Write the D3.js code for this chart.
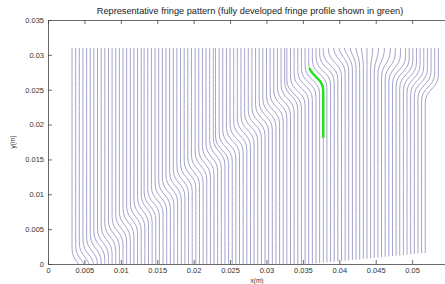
<!DOCTYPE html>
<html>
<head>
<meta charset="utf-8">
<script src="https://cdn.jsdelivr.net/npm/d3@7"></script>
<style>
  body { margin: 0; background: #fff; }
  svg { display: block; font-family: "Liberation Sans", Arial, sans-serif; }
</style>
</head>
<body>
<script>
// fringe data, all in mm
// x position of each fringe below the front
const fringeX = [
  4.8, 5.3, 5.8, 6.3, 6.8, 7.3, 7.8, 8.3, 8.8, 9.3,
  9.8, 10.3, 10.8, 11.3, 11.8, 12.3, 12.8, 13.3, 13.8, 14.3,
  14.8, 15.3, 15.8, 16.3, 16.8, 17.3, 17.8, 18.3, 18.8, 19.3,
  19.8, 20.3, 20.8, 21.3, 21.8, 22.3, 22.8, 23.3, 23.8, 24.3,
  24.8, 25.3, 25.8, 26.3, 26.8, 27.3, 27.8, 28.3, 28.8, 29.3,
  29.8, 30.3, 30.8, 31.3, 31.8, 32.3, 32.8, 33.3, 33.8, 34.3,
  34.8, 35.3, 35.8, 36.3, 36.8, 37.3, 37.8, 38.3, 38.8, 39.3,
  39.8, 40.3, 40.8, 41.3, 41.8, 42.3, 42.8, 43.3, 43.8, 44.3,
  44.8, 45.3, 45.8, 46.3, 46.8, 47.3, 47.8, 48.3, 48.8, 49.3,
  49.8, 50.3, 50.8, 51.3, 51.8
];
// y where each fringe starts (bottom end)
const fringeBase = [
  0, 0, 0, 0, 0, 0, 0, 0, 0, 0,
  0, 0, 0, 0, 0, 0, 0, 0, 0, 0,
  0, 0, 0, 0, 0, 0, 0, 0, 0, 0,
  0, 0, 0, 0, 0, 0, 0, 0, 0, 0,
  0, 0, 0, 0, 0, 0, 0, 0, 0, 0,
  0, 0, 0, 0, 0, 0, 0, 0, 0, 0,
  0, 0, 0, 0.03, 0.08, 0.13, 0.18, 0.23, 0.28, 0.33,
  0.38, 0.43, 0.48, 0.53, 0.58, 0.63, 0.68, 0.73, 0.78, 0.83,
  0.88, 0.93, 0.98, 1.03, 1.08, 1.13, 1.18, 1.23, 1.28, 1.33,
  1.38, 1.43, 1.48, 1.53, 1.58
];
// height of the bend (centre) on each fringe
const frontY = [
  0.2, 0.61, 1.02, 1.43, 1.84, 2.25, 2.66, 3.07, 3.48, 3.89,
  4.3, 4.71, 5.12, 5.53, 5.94, 6.35, 6.76, 7.17, 7.58, 7.99,
  8.32, 8.73, 9.14, 9.55, 9.96, 10.37, 10.78, 11.19, 11.6, 12.01,
  12.42, 12.83, 13.24, 13.65, 14.06, 14.47, 14.88, 15.29, 15.7, 16.11,
  16.35, 16.76, 17.17, 17.58, 17.99, 18.4, 18.81, 19.22, 19.63, 20.04,
  20.45, 20.86, 21.27, 21.68, 22.09, 22.5, 22.91, 23.32, 23.73, 24.14,
  24.39, 24.8, 25.21, 25.62, 26.03, 26.44, 26.85, 27.26, 27.67, 28.08,
  28.49, 28.9, 29.3, 29.6, 29.8, 29.9, 30, 30, 30, 29.5,
  29.3, 29, 28.7, 28.4, 28.1, 27.8, 27.5, 27.2, 26.9, 26.6,
  26.3, 26, 25.7, 25.4, 25.1
];
// sideways shift of the fringe above the bend (negative = to the left)
const frontShift = [
  -1.5, -1.5, -1.5, -1.5, -1.5, -1.5, -1.5, -1.5, -1.5, -1.5,
  -1.5, -1.5, -1.5, -1.5, -1.5, -1.5, -1.5, -1.5, -1.5, -1.5,
  -1.6, -1.6, -1.6, -1.6, -1.6, -1.6, -1.6, -1.6, -1.6, -1.6,
  -1.6, -1.6, -1.6, -1.6, -1.6, -1.6, -1.6, -1.6, -1.6, -1.6,
  -1.8, -1.8, -1.8, -1.8, -1.8, -1.8, -1.8, -1.8, -1.8, -1.8,
  -1.8, -1.8, -1.8, -1.8, -1.8, -1.8, -1.8, -1.8, -1.8, -1.8,
  -2.0, -2.0, -2.0, -2.0, -2.0, -2.0, -2.0, -2.0, -2.0, -2.0,
  -2.0, -1.8, -1.6, -1.4, -1.2, -0.9, -0.6, -0.3, 0, 0.3,
  0.6, 0.9, 1.2, 1.4, 1.6, 1.8, 1.8, 1.8, 1.8, 1.8,
  1.8, 1.8, 1.8, 1.8, 1.8
];
const bendHalf = 2.0;      // half height of the bend
const fringeTop = 31;      // all fringes stop here
const greenFringe = 66;    // fully developed profile
const greenRange = [18.1, 28.1];

const xTicks = [0, 0.005, 0.01, 0.015, 0.02, 0.025, 0.03, 0.035, 0.04, 0.045, 0.05];
const yTicks = [0, 0.005, 0.01, 0.015, 0.02, 0.025, 0.03, 0.035];

const width = 445, height = 284;
const margin = { top: 20, right: -13, bottom: 20, left: 48 };

const svg = d3.select("body").append("svg")
  .attr("width", width)
  .attr("height", height);

const x = d3.scaleLinear().domain([0, 0.0563]).range([margin.left, width - margin.right]);
const y = d3.scaleLinear().domain([0, 0.035]).range([height - margin.bottom, margin.top]);

const fmt = d => (d === 0 ? "0" : String(+d.toFixed(3)));

// clip areas for the fringes and the green profile
const defs = svg.append("defs");
defs.append("clipPath").attr("id", "fringeClip")
  .append("rect")
  .attr("x", 0).attr("width", width)
  .attr("y", y(fringeTop / 1000))
  .attr("height", y(0) - y(fringeTop / 1000));
defs.append("clipPath").attr("id", "greenClip")
  .append("rect")
  .attr("x", 0).attr("width", width)
  .attr("y", y(greenRange[1] / 1000))
  .attr("height", y(greenRange[0] / 1000) - y(greenRange[1] / 1000));

const line = d3.line()
  .x(p => x(p[0] / 1000))
  .y(p => y(p[1] / 1000))
  .curve(d3.curveBumpY);

// bottom end, start of bend, end of bend, top end
function fringePoints(i) {
  const xb = fringeX[i], yb = fringeBase[i];
  const yf = frontY[i], d = frontShift[i];
  const lo = yf - bendHalf, hi = yf + bendHalf;
  const start = yb > 0 ? yb : Math.min(0, lo);
  return [
    [xb, start],
    [xb, Math.max(lo, start)],
    [xb + d, hi],
    [xb + d, Math.max(fringeTop, hi)]
  ];
}

const fringeData = fringeX.map((_, i) => fringePoints(i));

svg.append("g")
  .attr("clip-path", "url(#fringeClip)")
  .selectAll("path")
  .data(fringeData)
  .enter()
  .append("path")
  .attr("d", line)
  .attr("fill", "none")
  .attr("stroke", "#a4a4ca")
  .attr("stroke-width", 1);

svg.append("path")
  .attr("clip-path", "url(#greenClip)")
  .attr("d", line(fringeData[greenFringe]))
  .attr("fill", "none")
  .attr("stroke", "#22e522")
  .attr("stroke-width", 2.5);

// axes, MATLAB style with ticks pointing inward
const axisColor = "#444";
const bottomAxis = svg.append("g")
  .attr("transform", `translate(0,${y(0)})`)
  .call(d3.axisBottom(x).tickValues(xTicks).tickFormat(fmt).tickSizeInner(-4).tickSizeOuter(0).tickPadding(4));
const topAxis = svg.append("g")
  .attr("transform", `translate(0,${y(0.035)})`)
  .call(d3.axisTop(x).tickValues(xTicks).tickFormat("").tickSizeInner(-4).tickSizeOuter(0));
const leftAxis = svg.append("g")
  .attr("transform", `translate(${x(0)},0)`)
  .call(d3.axisLeft(y).tickValues(yTicks).tickFormat(fmt).tickSizeInner(-4).tickSizeOuter(0).tickPadding(4));
const rightAxis = svg.append("g")
  .attr("transform", `translate(${x(0.0563)},0)`)
  .call(d3.axisRight(y).tickValues(yTicks).tickFormat("").tickSizeInner(-4).tickSizeOuter(0));

[bottomAxis, topAxis, leftAxis, rightAxis].forEach(a => {
  a.selectAll("path, line").attr("stroke", axisColor).attr("stroke-width", 0.8);
  a.selectAll("text").attr("fill", "#333").style("font-size", "7.5px");
});

svg.append("text")
  .attr("x", 250)
  .attr("y", 14)
  .attr("text-anchor", "middle")
  .attr("fill", "#222")
  .style("font-size", "9.2px")
  .text("Representative fringe pattern (fully developed fringe profile shown in green)");

svg.append("text")
  .attr("x", 257)
  .attr("y", 283)
  .attr("text-anchor", "middle")
  .attr("fill", "#333")
  .style("font-size", "6.5px")
  .text("x(m)");

svg.append("text")
  .attr("transform", `translate(15,${(y(0) + y(0.035)) / 2}) rotate(-90)`)
  .attr("text-anchor", "middle")
  .attr("fill", "#333")
  .style("font-size", "6.5px")
  .text("y(m)");
</script>
</body>
</html>
